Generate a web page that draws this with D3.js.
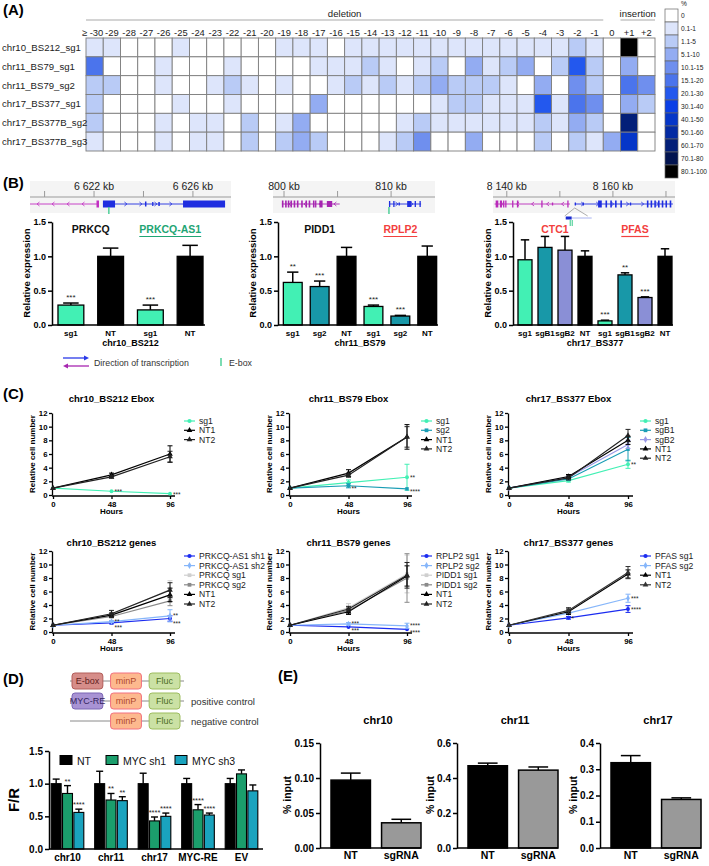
<!DOCTYPE html>
<html>
<head>
<meta charset="utf-8">
<title></title>
<script src="https://d3js.org/d3.v7.min.js"></script>
<style>
  body { margin: 0; background: #fff; }
  svg text { font-family: "Liberation Sans", Arial, sans-serif; }
</style>
</head>
<body>
<svg id="fig" width="709" height="866"></svg>
<script>
// ---------------- data ----------------
// (A) indel heatmap, values are legend class indices
var heatCols = ["≥ -30","-29","-28","-27","-26","-25","-24","-23","-22","-21","-20","-19","-18","-17","-16","-15",
                "-14","-13","-12","-11","-10","-9","-8","-7","-6","-5","-4","-3","-2","-1","0","+1","+2"];
var heatRows = ["chr10_BS212_sg1","chr11_BS79_sg1","chr11_BS79_sg2","chr17_BS377_sg1","chr17_BS377B_sg2","chr17_BS377B_sg3"];
var heatLevels = [
  [1,1,0,0,0,1,0,0,0,0,0,1,1,1,0,1, 1,1,1,1,1,1,1,1,1,1,1,1,2,1, 0,12,0],
  [5,0,0,0,1,0,0,0,1,0,0,0,0,1,1,1, 2,1,0,1,2,0,3,1,2,3,0,2,6,2, 0,3,0],
  [2,2,0,0,1,0,0,1,2,1,0,1,0,0,1,2, 1,2,1,2,3,2,2,2,1,0,3,0,4,2, 0,5,4],
  [2,0,0,0,0,1,0,0,1,0,0,0,0,3,0,0, 0,0,0,0,1,2,2,1,1,1,6,1,5,4, 0,3,2],
  [2,0,0,0,1,0,1,1,0,2,0,1,3,0,0,0, 0,0,1,2,1,1,1,1,1,1,2,1,3,2, 0,10,0],
  [1,0,0,0,1,0,1,1,0,2,0,2,3,2,0,0, 0,1,2,4,0,0,3,0,0,0,2,0,2,1, 3,8,0]
];
var legendLabels = ["0","0.1-1","1.1-5","5.1-10","10.1-15","15.1-20","20.1-30","30.1-40","40.1-50","50.1-60","60.1-70","70.1-80","80.1-100"];
var legendColors = ["#ffffff","#dde5fb","#b9cbf6","#93acf2","#6f8fee","#4b74ec","#2358ee","#0a3fe6","#0536c8","#042ba3","#031f78","#021450","#000000"];

// (B) relative expression
var bTicks = [0, 0.5, 1.0, 1.5];
var b10Labels = ["sg1","NT","sg1","NT"];
var b10Values = [0.29, 1.0, 0.22, 1.0];
var b10Errors = [0.03, 0.12, 0.07, 0.16];
var b10Stars  = ["***","","***",""];
var b11Labels = ["sg1","sg2","NT","sg1","sg2","NT"];
var b11Values = [0.62, 0.56, 1.0, 0.27, 0.13, 1.0];
var b11Errors = [0.15, 0.08, 0.13, 0.02, 0.01, 0.15];
var b11Stars  = ["**","***","","***","***",""];
var b17Labels = ["sg1","sgB1","sgB2","NT","sg1","sgB1","sgB2","NT"];
var b17Values = [0.95, 1.13, 1.09, 1.0, 0.06, 0.73, 0.40, 1.0];
var b17Errors = [0.29, 0.16, 0.20, 0.08, 0.01, 0.03, 0.01, 0.11];
var b17Stars  = ["","","","","***","**","***",""];

// gene tracks (kb)
var t10Ticks = [6620, 6622, 6624, 6626];
var t10Labels = [6622, 6626];
var t11Ticks = [800, 805, 810];
var t11Labels = [800, 810];
var t17Ticks = [8140, 8150, 8160, 8170];
var t17Labels = [8140, 8160];

// (C) growth curves
var cHours = [0, 48, 96];
var cTicksY = [0, 2, 4, 6, 8, 10, 12];
var c10eSg1 = [1.0, 0.55, 0.2],  c10eSg1Err = [0.05, 0.08, 0.05], c10eSg1Stars = ["", "***", "***"];
var c10eNT1 = [1.0, 2.95, 6.0],  c10eNT1Err = [0.05, 0.25, 1.2];
var c10eNT2 = [1.0, 2.65, 5.6],  c10eNT2Err = [0.05, 0.2, 0.8];

var c11eSg1 = [1.0, 1.8, 2.6],   c11eSg1Err = [0.05, 0.4, 1.9],  c11eSg1Stars = ["", "", "**"];
var c11eSg2 = [1.0, 1.35, 0.9],  c11eSg2Err = [0.05, 0.3, 0.1],  c11eSg2Stars = ["", "**", "****"];
var c11eNT1 = [1.0, 3.2, 8.5],   c11eNT1Err = [0.05, 0.5, 1.8];
var c11eNT2 = [1.0, 2.9, 8.5],   c11eNT2Err = [0.05, 0.3, 1.5];

var c17eSg1  = [1.0, 2.1, 4.5],  c17eSg1Err  = [0.05, 0.2, 0.6], c17eSg1Stars = ["", "", "**"];
var c17eSgB1 = [1.0, 2.35, 6.7], c17eSgB1Err = [0.05, 0.2, 1.7];
var c17eSgB2 = [1.0, 2.6, 7.4],  c17eSgB2Err = [0.05, 0.2, 0.6];
var c17eNT1  = [1.0, 2.7, 8.0],  c17eNT1Err  = [0.05, 0.3, 0.6];
var c17eNT2  = [1.0, 2.5, 8.7],  c17eNT2Err  = [0.05, 0.3, 0.9];

var c10gSh1 = [1.0, 1.35, 2.0],  c10gSh1Err = [0.05, 0.15, 0.4], c10gSh1Stars = ["", "***", "***"];
var c10gSh2 = [1.0, 1.55, 2.4],  c10gSh2Err = [0.05, 0.15, 0.9], c10gSh2Stars = ["", "**", "**"];
var c10gSg1 = [1.0, 2.6, 6.3],   c10gSg1Err = [0.05, 0.3, 1.3];
var c10gSg2 = [1.0, 2.3, 4.6],   c10gSg2Err = [0.05, 0.2, 0.7];
var c10gNT1 = [1.0, 2.5, 5.5],   c10gNT1Err = [0.05, 0.3, 1.0];
var c10gNT2 = [1.0, 2.7, 6.2],   c10gNT2Err = [0.05, 0.5, 1.1];

var c11gR1 = [1.0, 0.75, 0.4],   c11gR1Err = [0.05, 0.1, 0.1],  c11gR1Stars = ["", "***", "****"];
var c11gR2 = [1.0, 1.2, 0.9],    c11gR2Err = [0.05, 0.2, 0.4],  c11gR2Stars = ["", "***", "****"];
var c11gP1 = [1.0, 3.6, 8.6],    c11gP1Err = [0.05, 0.6, 2.8];
var c11gP2 = [1.0, 3.2, 8.0],    c11gP2Err = [0.05, 0.4, 3.6];
var c11gNT1 = [1.0, 3.0, 8.3],   c11gNT1Err = [0.05, 0.4, 1.5];
var c11gNT2 = [1.0, 3.4, 8.4],   c11gNT2Err = [0.05, 0.4, 1.9];

var c17gP1 = [1.0, 2.1, 3.4],    c17gP1Err = [0.05, 0.2, 0.5],  c17gP1Stars = ["", "*", "****"];
var c17gP2 = [1.0, 2.8, 5.0],    c17gP2Err = [0.05, 0.2, 0.6],  c17gP2Stars = ["", "", "***"];
var c17gNT1 = [1.0, 3.0, 8.6],   c17gNT1Err = [0.05, 0.4, 0.6];
var c17gNT2 = [1.0, 3.2, 8.8],   c17gNT2Err = [0.05, 0.4, 0.9];

// (D) luciferase reporter
var dConstructs = [["E-box","minP","Fluc"], ["MYC-RE","minP","Fluc"], [null,"minP","Fluc"]];
var dNotes = ["", "positive control", "negative control"];
var dGroups = ["chr10","chr11","chr17","MYC-RE","EV"];
var dSeries = ["NT","MYC sh1","MYC sh3"];
var dNT     = [1.0, 1.0, 1.0, 1.0, 1.0],      dNTErr  = [0.07, 0.19, 0.16, 0.08, 0.08];
var dSh1    = [0.85, 0.75, 0.43, 0.60, 1.15], dSh1Err = [0.12, 0.10, 0.06, 0.08, 0.06];
var dSh3    = [0.56, 0.74, 0.50, 0.52, 0.89], dSh3Err = [0.05, 0.06, 0.05, 0.03, 0.09];
var dSh1Stars = ["**","**","****","****",""];
var dSh3Stars = ["****","**","****","****",""];
var dTicks = [0, 0.5, 1.0, 1.5];

// (E) ChIP
var eLabels = ["NT","sgRNA"];
var eChr10 = [0.097, 0.036], eChr10Err = [0.010, 0.005], eTicks10 = [0, 0.05, 0.10, 0.15];
var eChr11 = [0.47, 0.445],  eChr11Err = [0.015, 0.018], eTicks11 = [0, 0.2, 0.4, 0.6];
var eChr17 = [0.325, 0.185], eChr17Err = [0.027, 0.006], eTicks17 = [0, 0.1, 0.2, 0.3, 0.4];

// ---------------- helpers ----------------
var FONT = '"Liberation Sans", Arial, sans-serif';
var svg = d3.select("#fig");

var barColor = { "sg1": "#42f0b4", "sg2": "#1898a8", "sgB1": "#1898a8", "sgB2": "#8a8fd6", "NT": "#000000" };

function addText(g, x, y, s, size, o) {
  o = o || {};
  var t = g.append("text").attr("x", x).attr("y", y).text(s)
    .attr("font-size", size)
    .attr("font-weight", o.bold ? "bold" : "normal")
    .attr("text-anchor", o.anchor || "start")
    .attr("fill", o.fill || "#000");
  if (o.rotate) t.attr("transform", "rotate(-90," + x + "," + y + ")");
  return t;
}

function styleAxis(g, size, sw) {
  g.attr("font-family", FONT).attr("font-size", size).attr("font-weight", "bold");
  g.selectAll("path, line").attr("stroke", "#000").attr("stroke-width", sw || 1.3);
  g.selectAll("text").attr("fill", "#000");
}

// ---------------- panel labels ----------------
addText(svg, 3, 15, "(A)", 15, {bold: true});
addText(svg, 3, 188, "(B)", 15, {bold: true});
addText(svg, 3, 399, "(C)", 15, {bold: true});
addText(svg, 3, 684, "(D)", 15, {bold: true});
addText(svg, 278, 681, "(E)", 15, {bold: true});

// ---------------- (A) heatmap ----------------
var gA = svg.append("g");
var hx = d3.scaleBand().domain(heatCols).range([86, 655]);
var hy = d3.scaleBand().domain(heatRows).range([38, 151]);
var heatColor = d3.scaleOrdinal().domain(d3.range(legendColors.length)).range(legendColors);

heatRows.forEach(function(r, i) {
  gA.selectAll(null).data(heatLevels[i]).enter().append("rect")
    .attr("x", function(d, j) { return hx(heatCols[j]); })
    .attr("y", hy(r))
    .attr("width", hx.bandwidth()).attr("height", hy.bandwidth())
    .attr("fill", function(d) { return heatColor(d); })
    .attr("stroke", "#7d7d7d").attr("stroke-width", 0.9);
  addText(gA, 2, hy(r) + hy.bandwidth() / 2 + 3.5, r, 9.6, {fill: "#222"});
});
heatCols.forEach(function(c, j) {
  if (j === 0) addText(gA, hx(c) + hx.bandwidth(), 36, c, 9.4, {anchor: "end", fill: "#222"});
  else addText(gA, hx(c) + hx.bandwidth() / 2, 36, c, 9.4, {anchor: "middle", fill: "#222"});
});
gA.append("line").attr("x1", hx("≥ -30")).attr("x2", hx("-1") + hx.bandwidth())
  .attr("y1", 20).attr("y2", 20).attr("stroke", "#aaa").attr("stroke-width", 1.2);
gA.append("line").attr("x1", hx("+1")).attr("x2", hx("+2") + hx.bandwidth())
  .attr("y1", 20).attr("y2", 20).attr("stroke", "#aaa").attr("stroke-width", 1.2);
addText(gA, (hx("≥ -30") + hx("-1") + hx.bandwidth()) / 2, 17, "deletion", 9.6, {anchor: "middle", fill: "#222"});
addText(gA, (hx("+1") + hx("+2") + hx.bandwidth()) / 2, 17, "insertion", 9.6, {anchor: "middle", fill: "#222"});

var ly = d3.scaleBand().domain(legendLabels).range([9, 178]);
legendLabels.forEach(function(l, i) {
  gA.append("rect").attr("x", 665).attr("y", ly(l)).attr("width", 13).attr("height", ly.bandwidth())
    .attr("fill", legendColors[i]).attr("stroke", "#666").attr("stroke-width", 0.7);
  addText(gA, 681, ly(l) + ly.bandwidth() / 2 + 2.5, l, 6.6, {fill: "#222"});
});
addText(gA, 681, 6, "%", 6.6, {fill: "#222"});

// ---------------- (B) gene tracks ----------------
function chevrons(g, x0, x1, y, dir, color) {
  for (var x = x0 + 8; x < x1 - 4; x += 15) {
    g.append("path").attr("d", dir > 0
        ? "M" + (x - 1.5) + "," + (y - 2) + "L" + (x + 1) + "," + y + "L" + (x - 1.5) + "," + (y + 2)
        : "M" + (x + 1.5) + "," + (y - 2) + "L" + (x - 1) + "," + y + "L" + (x + 1.5) + "," + (y + 2))
      .attr("fill", "none").attr("stroke", color).attr("stroke-width", 0.8);
  }
}

function geneTrack(o) {
  var g = svg.append("g");
  var k = d3.scaleLinear().domain(o.domain).range([o.x0, o.x1]);
  g.append("rect").attr("x", o.x0).attr("y", 181).attr("width", o.x1 - o.x0).attr("height", 32).attr("fill", "#f4f4f4");
  g.append("line").attr("x1", o.x0).attr("x2", o.x1).attr("y1", 197).attr("y2", 197).attr("stroke", "#9a9a9a");
  o.ticks.forEach(function(t) {
    g.append("line").attr("x1", k(t)).attr("x2", k(t)).attr("y1", 191).attr("y2", 197).attr("stroke", "#9a9a9a");
  });
  o.labels.forEach(function(t) {
    addText(g, k(t), 190, d3.format(",")(t).replace(",", " ") + " kb", 10.5, {anchor: "middle", fill: "#222"});
  });
  o.genes.forEach(function(ge) {
    g.append("line").attr("x1", k(ge.from)).attr("x2", k(ge.to)).attr("y1", 204).attr("y2", 204)
      .attr("stroke", ge.color).attr("stroke-width", 0.9);
    chevrons(g, k(ge.from), k(ge.to), 204, ge.dir, ge.color);
    ge.exons.forEach(function(e) {
      g.append("rect").attr("x", k(e[0])).attr("y", 204 - e[2] / 2)
        .attr("width", Math.max(1.3, k(e[1]) - k(e[0]))).attr("height", e[2]).attr("fill", ge.color);
    });
  });
  (o.ebox || []).forEach(function(e) {
    g.append("line").attr("x1", k(e)).attr("x2", k(e)).attr("y1", 207).attr("y2", 214)
      .attr("stroke", "#35c98a").attr("stroke-width", 1.3);
  });
  if (o.inset) {
    var s = k(o.inset);
    g.append("path").attr("d", "M" + (s - 10) + ",216L" + s + ",208L" + (s + 13) + ",216")
      .attr("fill", "none").attr("stroke", "#999").attr("stroke-width", 0.8);
    g.append("rect").attr("x", s - 9).attr("y", 216.5).attr("width", 6).attr("height", 3).attr("fill", "#1a2bd0");
    g.append("line").attr("x1", s - 3).attr("x2", s + 17).attr("y1", 218).attr("y2", 218).attr("stroke", "#aab4f0");
    [s - 4.5, s - 2.5].forEach(function(xx) {
      g.append("line").attr("x1", xx).attr("x2", xx).attr("y1", 220).attr("y2", 226).attr("stroke", "#35c98a").attr("stroke-width", 1);
    });
  }
}

geneTrack({
  domain: [6619.41, 6627.54], x0: 30, x1: 231, ticks: t10Ticks, labels: t10Labels,
  genes: [
    {from: 6619.41, to: 6622.2, dir: -1, color: "#c22fc2", exons: [[6622.1, 6622.2, 7]]},
    {from: 6622.36, to: 6627.3, dir: 1, color: "#1f2ee0",
     exons: [[6622.36, 6622.85, 7], [6624.06, 6624.12, 5], [6624.35, 6624.4, 4], [6624.6, 6624.66, 4], [6625.6, 6627.3, 7]]}
  ],
  ebox: [6622.6]
});
geneTrack({
  domain: [798.97, 814.1], x0: 273, x1: 435, ticks: t11Ticks, labels: t11Labels,
  genes: [
    {from: 799.8, to: 805.2, dir: -1, color: "#a624b0",
     exons: [[799.8, 799.95, 7], [800.1, 800.25, 7], [800.35, 800.5, 7], [800.6, 800.75, 7], [800.9, 801.05, 7],
             [801.2, 801.35, 7], [801.6, 801.75, 7], [802.0, 802.15, 7], [802.3, 802.45, 7], [802.7, 802.85, 7],
             [802.9, 803.0, 7], [803.3, 803.6, 7], [804.0, 804.5, 6]]},
    {from: 809.8, to: 812.8, dir: 1, color: "#1f2ee0",
     exons: [[809.8, 809.9, 6], [810.2, 810.3, 6], [810.7, 810.8, 3], [811.5, 811.9, 6], [812.2, 812.3, 6], [812.65, 812.75, 6]]}
  ],
  ebox: [809.8]
});
geneTrack({
  domain: [8137.4, 8171.7], x0: 493, x1: 675, ticks: t17Ticks, labels: t17Labels,
  genes: [
    {from: 8137.7, to: 8151.9, dir: -1, color: "#b92bba",
     exons: [[8137.9, 8138.4, 7], [8138.7, 8139.1, 7], [8139.3, 8139.5, 7], [8139.7, 8139.9, 7], [8141.0, 8141.2, 7],
             [8141.9, 8142.2, 7], [8146.5, 8146.7, 7], [8148.5, 8148.6, 3], [8151.4, 8151.6, 7]]},
    {from: 8152.8, to: 8171.3, dir: 1, color: "#1f2ee0",
     exons: [[8152.8, 8152.9, 3], [8154.3, 8154.4, 3], [8157.2, 8157.9, 7], [8158.6, 8158.9, 7], [8159.5, 8159.8, 7],
             [8160.4, 8160.7, 7], [8161.4, 8161.7, 7], [8163.2, 8163.3, 3], [8166.4, 8166.7, 7], [8167.1, 8167.4, 7],
             [8167.8, 8168.1, 7], [8168.5, 8168.8, 7], [8169.2, 8169.5, 7], [8169.9, 8170.2, 7], [8170.7, 8171.0, 7]]}
  ],
  inset: 8152.8
});

// ---------------- (B) bar charts ----------------
function barPanel(o) {
  var g = svg.append("g");
  var x = d3.scaleBand().domain(d3.range(o.values.length)).range([o.left + 4, o.right])
    .paddingInner(o.pad).paddingOuter(0.05);
  var y = d3.scaleLinear().domain([0, 1.5]).range([325, 222]);
  var bw = x.bandwidth();
  g.selectAll(null).data(o.values).enter().append("line")
    .attr("x1", function(d, i) { return x(i) + bw / 2; }).attr("x2", function(d, i) { return x(i) + bw / 2; })
    .attr("y1", function(d) { return y(d); }).attr("y2", function(d, i) { return y(d + o.errors[i]); })
    .attr("stroke", "#000").attr("stroke-width", 1.5);
  g.selectAll(null).data(o.values).enter().append("line")
    .attr("x1", function(d, i) { return x(i) + bw * 0.2; }).attr("x2", function(d, i) { return x(i) + bw * 0.8; })
    .attr("y1", function(d, i) { return y(d + o.errors[i]); }).attr("y2", function(d, i) { return y(d + o.errors[i]); })
    .attr("stroke", "#000").attr("stroke-width", 1.5);
  g.selectAll(null).data(o.values).enter().append("rect")
    .attr("x", function(d, i) { return x(i); }).attr("width", bw)
    .attr("y", function(d) { return y(d); }).attr("height", function(d) { return y(0) - y(d); })
    .attr("fill", function(d, i) { return barColor[o.labels[i]]; })
    .attr("stroke", "#000").attr("stroke-width", 1.3);
  o.stars.forEach(function(s, i) {
    if (s) addText(g, x(i) + bw / 2, y(o.values[i] + o.errors[i]) - 3, s, 8, {anchor: "middle", fill: "#222"});
  });
  var ya = g.append("g").attr("transform", "translate(" + o.left + ",0)")
    .call(d3.axisLeft(y).tickValues(bTicks).tickFormat(d3.format(".1f")).tickSize(4).tickSizeOuter(0).tickPadding(2));
  styleAxis(ya, 9, 1.5);
  g.append("line").attr("x1", o.left).attr("x2", o.right).attr("y1", y(0)).attr("y2", y(0))
    .attr("stroke", "#000").attr("stroke-width", 1.5);
  o.labels.forEach(function(l, i) {
    addText(g, x(i) + bw / 2, 336, l, 8, {anchor: "middle", bold: true});
  });
  addText(g, (x(0) + x(o.values.length - 1) + bw) / 2, 346, o.group, 9, {anchor: "middle", bold: true});
  addText(g, o.left - 22, 273, "Relative expression", 9.5, {anchor: "middle", bold: true, rotate: true});
  o.genes.forEach(function(ge) {
    var cx = (x(ge.from) + x(ge.to) + bw) / 2;
    var t = addText(g, cx, 233, ge.name, 10.5, {anchor: "middle", bold: true, fill: ge.color});
    if (ge.underline) {
      var w = t.node().getComputedTextLength();
      g.append("line").attr("x1", cx - w / 2).attr("x2", cx + w / 2).attr("y1", 236.5).attr("y2", 236.5)
        .attr("stroke", ge.color).attr("stroke-width", 1.2);
    }
  });
}

barPanel({left: 52, right: 205, pad: 0.35, labels: b10Labels, values: b10Values, errors: b10Errors, stars: b10Stars,
  group: "chr10_BS212",
  genes: [{name: "PRKCQ", from: 0, to: 1, color: "#111"}, {name: "PRKCQ-AS1", from: 2, to: 3, color: "#1fa574", underline: true}]});
barPanel({left: 278, right: 438, pad: 0.3, labels: b11Labels, values: b11Values, errors: b11Errors, stars: b11Stars,
  group: "chr11_BS79",
  genes: [{name: "PIDD1", from: 0, to: 2, color: "#111"}, {name: "RPLP2", from: 3, to: 5, color: "#f2403e", underline: true}]});
barPanel({left: 513, right: 673, pad: 0.3, labels: b17Labels, values: b17Values, errors: b17Errors, stars: b17Stars,
  group: "chr17_BS377",
  genes: [{name: "CTC1", from: 0, to: 3, color: "#f2403e"}, {name: "PFAS", from: 4, to: 7, color: "#f2403e", underline: true}]});

// B legend
var gBL = svg.append("g");
gBL.append("line").attr("x1", 63).attr("x2", 86).attr("y1", 358).attr("y2", 358).attr("stroke", "#2a3ae8").attr("stroke-width", 1.3);
gBL.append("path").attr("d", "M89,358L84,355.5L84,360.5Z").attr("fill", "#2a3ae8");
gBL.append("line").attr("x1", 66).attr("x2", 89).attr("y1", 366).attr("y2", 366).attr("stroke", "#a726b0").attr("stroke-width", 1.3);
gBL.append("path").attr("d", "M63,366L68,363.5L68,368.5Z").attr("fill", "#a726b0");
addText(gBL, 94, 366, "Direction of transcription", 8.8, {fill: "#333"});
gBL.append("line").attr("x1", 221).attr("x2", 221).attr("y1", 358).attr("y2", 366).attr("stroke", "#35c98a").attr("stroke-width", 1.3);
addText(gBL, 229, 366, "E-box", 8.8, {fill: "#333"});

// ---------------- (C) growth curves ----------------
var symOf = {circle: d3.symbolCircle, square: d3.symbolSquare, diamond: d3.symbolDiamond, triangle: d3.symbolTriangle};

function linePanel(o) {
  var g = svg.append("g");
  var x = d3.scaleLinear().domain([0, 96]).range([o.left, o.right]);
  var y = d3.scaleLinear().domain([0, 12]).range([o.bottom, o.top]);
  var ya = g.append("g").attr("transform", "translate(" + (o.left - 1) + ",0)")
    .call(d3.axisLeft(y).tickValues(cTicksY).tickSize(3).tickSizeOuter(0).tickPadding(1.5));
  styleAxis(ya, 7.8, 1.3);
  var xa = g.append("g").attr("transform", "translate(0," + (o.bottom + 1) + ")")
    .call(d3.axisBottom(x).tickValues(cHours).tickSize(3).tickSizeOuter(0).tickPadding(2));
  styleAxis(xa, 7.8, 1.3);
  xa.select(".domain").attr("d", "M" + (o.left - 1) + ",0H" + (o.right + 5));
  addText(g, (o.left + o.right) / 2, o.bottom + 19, "Hours", 8, {anchor: "middle", bold: true});
  addText(g, o.left - 18, (o.top + o.bottom) / 2, "Relative cell number", 8, {anchor: "middle", bold: true, rotate: true});
  addText(g, (o.left + o.right) / 2, o.titleY, o.title, 9.5, {anchor: "middle", bold: true});

  var line = d3.line().x(function(d, i) { return x(cHours[i]); }).y(function(d) { return y(d); });
  o.series.forEach(function(s, k) {
    g.append("path").datum(s.values).attr("d", line).attr("fill", "none")
      .attr("stroke", s.color).attr("stroke-width", 1.2);
    s.values.forEach(function(v, i) {
      var e = s.errors[i], cx = x(cHours[i]);
      if (e > 0.1) {
        g.append("line").attr("x1", cx).attr("x2", cx).attr("y1", y(v - e)).attr("y2", y(v + e))
          .attr("stroke", s.color).attr("stroke-width", 1);
        [v - e, v + e].forEach(function(w) {
          g.append("line").attr("x1", cx - 2.5).attr("x2", cx + 2.5).attr("y1", y(w)).attr("y2", y(w))
            .attr("stroke", s.color).attr("stroke-width", 1);
        });
      }
      g.append("path").attr("d", d3.symbol().type(symOf[s.symbol]).size(s.symbol === "triangle" ? 14 : 12)())
        .attr("transform", "translate(" + cx + "," + y(v) + ")").attr("fill", s.color);
      if (s.stars && s.stars[i]) addText(g, cx + 3, y(v) + 3 + (s.starDy || 0), s.stars[i], 6.5, {fill: "#222"});
    });
    var ly2 = o.legendY + k * o.legendStep;
    g.append("line").attr("x1", o.legendX).attr("x2", o.legendX + 11).attr("y1", ly2).attr("y2", ly2)
      .attr("stroke", s.color).attr("stroke-width", 1.2);
    g.append("path").attr("d", d3.symbol().type(symOf[s.symbol]).size(14)())
      .attr("transform", "translate(" + (o.legendX + 5.5) + "," + ly2 + ")").attr("fill", s.color);
    addText(g, o.legendX + 15, ly2 + 3, s.name, 8.6, {fill: "#222"});
  });
}

var cAqua = "#42f0b4", cTeal = "#1a9db5", cLav = "#9a98e6", cBlue = "#1b2cf0", cLBlue = "#86b6fa",
    cLGrey = "#cfcfcf", cGrey = "#8a8a8a", cBlack = "#000";

linePanel({left: 53, right: 170, top: 413, bottom: 495, title: "chr10_BS212 Ebox", titleY: 402,
  legendX: 184, legendY: 421, legendStep: 9.3,
  series: [
    {name: "sg1", values: c10eSg1, errors: c10eSg1Err, stars: c10eSg1Stars, color: cAqua, symbol: "circle"},
    {name: "NT1", values: c10eNT1, errors: c10eNT1Err, color: cBlack, symbol: "triangle"},
    {name: "NT2", values: c10eNT2, errors: c10eNT2Err, color: "#222", symbol: "triangle"}
  ]});
linePanel({left: 290, right: 407, top: 413, bottom: 495, title: "chr11_BS79 Ebox", titleY: 402,
  legendX: 421, legendY: 421, legendStep: 9.3,
  series: [
    {name: "sg1", values: c11eSg1, errors: c11eSg1Err, stars: c11eSg1Stars, color: cAqua, symbol: "circle"},
    {name: "sg2", values: c11eSg2, errors: c11eSg2Err, stars: c11eSg2Stars, color: cTeal, symbol: "square", starDy: 2},
    {name: "NT1", values: c11eNT1, errors: c11eNT1Err, color: cBlack, symbol: "triangle"},
    {name: "NT2", values: c11eNT2, errors: c11eNT2Err, color: "#222", symbol: "triangle"}
  ]});
linePanel({left: 509, right: 628, top: 413, bottom: 495, title: "chr17_BS377 Ebox", titleY: 402,
  legendX: 640, legendY: 421, legendStep: 9.3,
  series: [
    {name: "sg1", values: c17eSg1, errors: c17eSg1Err, stars: c17eSg1Stars, color: cAqua, symbol: "circle"},
    {name: "sgB1", values: c17eSgB1, errors: c17eSgB1Err, color: cTeal, symbol: "square"},
    {name: "sgB2", values: c17eSgB2, errors: c17eSgB2Err, color: cLav, symbol: "diamond"},
    {name: "NT1", values: c17eNT1, errors: c17eNT1Err, color: cBlack, symbol: "triangle"},
    {name: "NT2", values: c17eNT2, errors: c17eNT2Err, color: "#222", symbol: "triangle"}
  ]});
linePanel({left: 53, right: 170, top: 551, bottom: 632, title: "chr10_BS212 genes", titleY: 546,
  legendX: 184, legendY: 556, legendStep: 9.6,
  series: [
    {name: "PRKCQ-AS1 sh1", values: c10gSh1, errors: c10gSh1Err, stars: c10gSh1Stars, color: cBlue, symbol: "circle", starDy: 4},
    {name: "PRKCQ-AS1 sh2", values: c10gSh2, errors: c10gSh2Err, stars: c10gSh2Stars, color: cLBlue, symbol: "diamond", starDy: -1},
    {name: "PRKCQ sg1", values: c10gSg1, errors: c10gSg1Err, color: cLGrey, symbol: "square"},
    {name: "PRKCQ sg2", values: c10gSg2, errors: c10gSg2Err, color: cGrey, symbol: "square"},
    {name: "NT1", values: c10gNT1, errors: c10gNT1Err, color: cBlack, symbol: "triangle"},
    {name: "NT2", values: c10gNT2, errors: c10gNT2Err, color: "#222", symbol: "triangle"}
  ]});
linePanel({left: 290, right: 407, top: 551, bottom: 632, title: "chr11_BS79 genes", titleY: 546,
  legendX: 421, legendY: 556, legendStep: 9.6,
  series: [
    {name: "RPLP2 sg1", values: c11gR1, errors: c11gR1Err, stars: c11gR1Stars, color: cBlue, symbol: "circle", starDy: 3},
    {name: "RPLP2 sg2", values: c11gR2, errors: c11gR2Err, stars: c11gR2Stars, color: cLBlue, symbol: "diamond", starDy: -1},
    {name: "PIDD1 sg1", values: c11gP1, errors: c11gP1Err, color: cLGrey, symbol: "square"},
    {name: "PIDD1 sg2", values: c11gP2, errors: c11gP2Err, color: cGrey, symbol: "square"},
    {name: "NT1", values: c11gNT1, errors: c11gNT1Err, color: cBlack, symbol: "triangle"},
    {name: "NT2", values: c11gNT2, errors: c11gNT2Err, color: "#222", symbol: "triangle"}
  ]});
linePanel({left: 509, right: 628, top: 551, bottom: 632, title: "chr17_BS377 genes", titleY: 546,
  legendX: 640, legendY: 556, legendStep: 9.6,
  series: [
    {name: "PFAS sg1", values: c17gP1, errors: c17gP1Err, stars: c17gP1Stars, color: cBlue, symbol: "circle"},
    {name: "PFAS sg2", values: c17gP2, errors: c17gP2Err, stars: c17gP2Stars, color: cLBlue, symbol: "diamond"},
    {name: "NT1", values: c17gNT1, errors: c17gNT1Err, color: cBlack, symbol: "triangle"},
    {name: "NT2", values: c17gNT2, errors: c17gNT2Err, color: "#333", symbol: "triangle"}
  ]});

// ---------------- (D) reporter schematic ----------------
var gD = svg.append("g");
var partStyle = {
  "E-box":  {fill: "#d68d89", stroke: "#b35e5a", text: "#5e2220"},
  "MYC-RE": {fill: "#a893d4", stroke: "#7b66b4", text: "#35255e"},
  "minP":   {fill: "#fdb98e", stroke: "#f2707e", text: "#b0472c"},
  "Fluc":   {fill: "#cbe1a4", stroke: "#9dbd5f", text: "#4a6b1e"}
};
var slotX = d3.scaleBand().domain([0, 1, 2]).range([72, 180]).paddingInner(0.2);
var rowY = d3.scalePoint().domain(d3.range(dConstructs.length)).range([681, 721]);
dConstructs.forEach(function(parts, r) {
  var yy = rowY(r);
  gD.append("line").attr("x1", 70).attr("x2", 184).attr("y1", yy).attr("y2", yy).attr("stroke", "#8a8a8a").attr("stroke-width", 1);
  parts.forEach(function(p, s) {
    if (!p) return;
    var st = partStyle[p];
    gD.append("rect").attr("x", slotX(s)).attr("y", yy - 8).attr("width", slotX.bandwidth()).attr("height", 16)
      .attr("rx", 3).attr("fill", st.fill).attr("stroke", st.stroke).attr("stroke-width", 1);
    addText(gD, slotX(s) + slotX.bandwidth() / 2, yy + 3.3, p, 9, {anchor: "middle", fill: st.text});
  });
  if (dNotes[r]) addText(gD, 191, yy + 3.5, dNotes[r], 9.6, {fill: "#333"});
});

// ---------------- (D) bar chart ----------------
(function() {
  var g = svg.append("g");
  var left = 49, right = 263, top = 751, bottom = 849;
  var x0 = d3.scaleBand().domain(dGroups).range([left, 260]).paddingInner(0.25).paddingOuter(0.05);
  var x1 = d3.scaleBand().domain(dSeries).range([0, x0.bandwidth()]).paddingInner(0.12);
  var y = d3.scaleLinear().domain([0, 1.5]).range([bottom, top]);
  var cols = {"NT": "#000", "MYC sh1": "#1b9e6c", "MYC sh3": "#1aa3be"};
  var vals = {"NT": dNT, "MYC sh1": dSh1, "MYC sh3": dSh3};
  var errs = {"NT": dNTErr, "MYC sh1": dSh1Err, "MYC sh3": dSh3Err};
  var stars = {"NT": null, "MYC sh1": dSh1Stars, "MYC sh3": dSh3Stars};
  var bw = x1.bandwidth();
  dSeries.forEach(function(s) {
    dGroups.forEach(function(gr, i) {
      var v = vals[s][i], e = errs[s][i], cx = x0(gr) + x1(s) + bw / 2;
      g.append("line").attr("x1", cx).attr("x2", cx).attr("y1", y(v)).attr("y2", y(v + e)).attr("stroke", "#000").attr("stroke-width", 1.4);
      g.append("line").attr("x1", cx - bw * 0.35).attr("x2", cx + bw * 0.35).attr("y1", y(v + e)).attr("y2", y(v + e))
        .attr("stroke", "#000").attr("stroke-width", 1.4);
      g.append("rect").attr("x", x0(gr) + x1(s)).attr("width", bw).attr("y", y(v)).attr("height", y(0) - y(v))
        .attr("fill", cols[s]).attr("stroke", "#000").attr("stroke-width", 1.1);
      if (stars[s] && stars[s][i]) addText(g, cx, y(v + e) - 2, stars[s][i], 7.5, {anchor: "middle", fill: "#222"});
    });
  });
  var ya = g.append("g").attr("transform", "translate(" + left + ",0)")
    .call(d3.axisLeft(y).tickValues(dTicks).tickFormat(d3.format(".1f")).tickSize(4).tickSizeOuter(0).tickPadding(2));
  styleAxis(ya, 10, 1.5);
  g.append("line").attr("x1", left).attr("x2", right).attr("y1", y(0)).attr("y2", y(0)).attr("stroke", "#000").attr("stroke-width", 1.5);
  dGroups.forEach(function(gr) {
    addText(g, x0(gr) + x0.bandwidth() / 2, 861, gr, 10, {anchor: "middle", bold: true});
  });
  addText(g, 19, 800, "F/R", 15, {anchor: "middle", bold: true, rotate: true});
  var legX = [60, 106, 175];
  dSeries.forEach(function(s, i) {
    g.append("rect").attr("x", legX[i]).attr("y", 755.5).attr("width", 12).attr("height", 9)
      .attr("fill", cols[s]).attr("stroke", "#000").attr("stroke-width", 1);
    addText(g, legX[i] + 17, 764.5, s, 10.5, {fill: "#111"});
  });
})();

// ---------------- (E) ChIP bar charts ----------------
function ePanel(o) {
  var g = svg.append("g");
  var top = 743, bottom = 848;
  var x = d3.scaleBand().domain(eLabels).range([o.left + 11, o.left + 101]).paddingInner(0.22).paddingOuter(0);
  var y = d3.scaleLinear().domain([0, o.ticks[o.ticks.length - 1]]).range([bottom, top]);
  var bw = x.bandwidth();
  var fills = ["#000", "#999"];
  eLabels.forEach(function(l, i) {
    var v = o.values[i], e = o.errors[i], cx = x(l) + bw / 2;
    g.append("line").attr("x1", cx).attr("x2", cx).attr("y1", y(v)).attr("y2", y(v + e)).attr("stroke", "#000").attr("stroke-width", 1.5);
    g.append("line").attr("x1", cx - bw * 0.25).attr("x2", cx + bw * 0.25).attr("y1", y(v + e)).attr("y2", y(v + e))
      .attr("stroke", "#000").attr("stroke-width", 1.5);
    g.append("rect").attr("x", x(l)).attr("width", bw).attr("y", y(v)).attr("height", y(0) - y(v))
      .attr("fill", fills[i]).attr("stroke", "#000").attr("stroke-width", 1.5);
    addText(g, cx, 859, l, 10.5, {anchor: "middle", bold: true});
  });
  var ya = g.append("g").attr("transform", "translate(" + o.left + ",0)")
    .call(d3.axisLeft(y).tickValues(o.ticks).tickFormat(d3.format(o.fmt)).tickSize(4).tickSizeOuter(0).tickPadding(2));
  styleAxis(ya, 10, 1.5);
  g.append("line").attr("x1", o.left).attr("x2", o.left + 101).attr("y1", y(0)).attr("y2", y(0)).attr("stroke", "#000").attr("stroke-width", 1.5);
  addText(g, o.left + 58, 724, o.title, 11, {anchor: "middle", bold: true});
  addText(g, o.yLabelX, 795, "% input", 10.5, {anchor: "middle", bold: true, rotate: true});
}
ePanel({left: 320, values: eChr10, errors: eChr10Err, ticks: eTicks10, fmt: ".2f", title: "chr10", yLabelX: 291});
ePanel({left: 457, values: eChr11, errors: eChr11Err, ticks: eTicks11, fmt: ".1f", title: "chr11", yLabelX: 434});
ePanel({left: 600, values: eChr17, errors: eChr17Err, ticks: eTicks17, fmt: ".1f", title: "chr17", yLabelX: 577});
</script>
</body>
</html>
